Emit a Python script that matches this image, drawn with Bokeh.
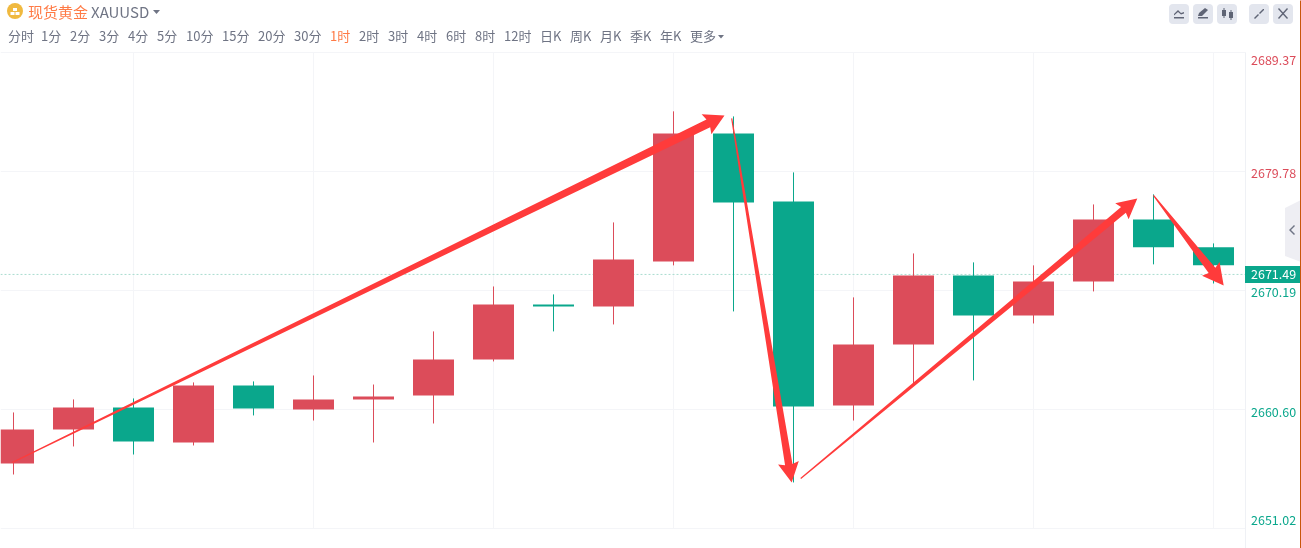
from bokeh.embed import file_html
from bokeh.resources import INLINE
from bokeh.plotting import figure
from bokeh.core.properties import value
from bokeh.models import ColumnDataSource, Range1d
import math

# ---------- data ----------
OPEN  = [2656.26, 2659.00, 2660.77, 2657.95, 2662.54, 2660.61, 2661.42, 2661.74, 2664.64, 2669.07, 2668.91,
         2672.54, 2682.85, 2677.37, 2660.93, 2665.85, 2671.41, 2668.19, 2670.93, 2675.92, 2673.67]
CLOSE = [2659.00, 2660.77, 2658.03, 2662.54, 2660.69, 2661.42, 2661.66, 2664.64, 2669.07, 2668.91, 2672.70,
         2682.85, 2677.29, 2660.85, 2665.85, 2671.41, 2668.19, 2670.93, 2675.92, 2673.67, 2672.22]
HIGH  = [2660.37, 2661.42, 2661.50, 2662.79, 2662.87, 2663.35, 2662.62, 2666.90, 2670.52, 2669.88, 2675.68,
         2684.63, 2684.22, 2679.71, 2669.64, 2673.18, 2672.46, 2672.22, 2677.13, 2677.94, 2673.99]
LOW   = [2655.37, 2657.63, 2656.98, 2657.71, 2660.13, 2659.72, 2657.95, 2659.48, 2664.48, 2666.90, 2667.46,
         2672.22, 2668.51, 2654.73, 2659.72, 2662.54, 2662.95, 2667.54, 2670.12, 2672.30, 2670.76]
Y_TICKS = [2689.37, 2679.78, 2670.19, 2660.60, 2651.02]
X_GRID = [2, 5, 8, 11, 14, 17, 20]
LAST_PRICE = 2671.49
MENU = ["分时", "1分", "2分", "3分", "4分", "5分", "10分", "15分", "20分", "30分", "1时", "2时", "3时",
        "4时", "6时", "8时", "12时", "日K", "周K", "月K", "季K", "年K", "更多"]
MENU_X = [8, 41, 70, 99, 128, 157, 186, 222, 258, 294, 330, 359, 388, 417, 446, 475, 504, 540, 570, 600, 630, 660, 690]
# hand-drawn arrows: start (candle index, price), tip (candle index, price), shaft width at tip, head length
ARROWS = [(-0.02, 2656.34, 11.85, 2684.30, 8.5, 18),
          (11.97, 2684.06, 12.97, 2654.73, 7.5, 18),
          (13.12, 2655.05, 18.73, 2677.61, 7.5, 18),
          (19.00, 2677.86, 20.17, 2670.60, 8.5, 19)]

# ---------- palette ----------
UP, DOWN = "#dc4c5a", "#0aa78c"
ARROW = "#ff3b3b"
GRID = "#f4f5f8"
ORANGE = "#ff7a45"
GREY = "#6f7484"
FONT = value("Noto Sans CJK SC")

W, H = 1301, 548
RIGHT, TOP, BOTTOM = 1245, 52, 528
PX_X = 60.0
PX_Y = (BOTTOM - TOP) / (Y_TICKS[0] - Y_TICKS[-1])
xr = Range1d(-13 / PX_X, (W - 13) / PX_X)
yr = Range1d(Y_TICKS[-1] - (H - BOTTOM) / PX_Y, Y_TICKS[0] + TOP / PX_Y)
X_END = (RIGHT - 13) / PX_X

p = figure(width=W, height=H, x_range=xr, y_range=yr, x_axis_location=None, y_axis_location=None,
           output_backend="svg", toolbar_location=None, min_border=0, background_fill_color="white",
           border_fill_color="white", outline_line_color=None,
           styles={"position": "fixed", "left": "0", "top": "0"})
p.grid.visible = False
p.extra_x_ranges["px"] = Range1d(0.5, W + 0.5)
p.extra_y_ranges["px"] = Range1d(H + 0.5, 0.5)
PXK = dict(x_range_name="px", y_range_name="px")

# grid, axis line, last-price line
n = len(Y_TICKS)
p.segment([xr.start] * n, Y_TICKS, [X_END] * n, Y_TICKS, line_color=GRID)
m = len(X_GRID)
p.segment(X_GRID, [Y_TICKS[-1]] * m, X_GRID, [Y_TICKS[0]] * m, line_color=GRID)
p.segment([X_END], [Y_TICKS[-1] - 20 / PX_Y], [X_END], [Y_TICKS[0]], line_color="#eff1f5")
p.segment([xr.start], [LAST_PRICE], [X_END], [LAST_PRICE], line_color="#a9dccf", line_dash="2 2")

idx = list(range(len(OPEN)))
src = ColumnDataSource(dict(x=idx, o=OPEN, c=CLOSE, h=HIGH, l=LOW,
                            col=[UP if c >= o else DOWN for o, c in zip(OPEN, CLOSE)]))
p.segment("x", "h", "x", "l", line_color="col", line_width=1, source=src)
p.vbar("x", 41 / PX_X, "o", "c", fill_color="col", line_color=None, source=src)

# tapered arrows, built in pixel space so that widths are true pixels
def arrow(x0, y0, x1, y1, w, head):
    ax0, ay0, ax1, ay1 = x0 * PX_X, y0 * PX_Y, x1 * PX_X, y1 * PX_Y
    L = math.hypot(ax1 - ax0, ay1 - ay0)
    ux, uy = (ax1 - ax0) / L, (ay1 - ay0) / L
    nx, ny = -uy, ux
    hw = w * 0.6 + 6
    bx, by = ax1 - ux * head, ay1 - uy * head
    pts = [(ax0 + nx * 0.6, ay0 + ny * 0.6),
           (bx + nx * w / 2, by + ny * w / 2),
           (bx + nx * hw - ux * 2, by + ny * hw - uy * 2),
           (ax1, ay1),
           (bx - nx * hw - ux * 2, by - ny * hw - uy * 2),
           (bx - nx * w / 2, by - ny * w / 2),
           (ax0 - nx * 0.6, ay0 - ny * 0.6)]
    return [q[0] / PX_X for q in pts], [q[1] / PX_Y for q in pts]

xs, ys = zip(*[arrow(*a) for a in ARROWS])
p.patches(list(xs), list(ys), fill_color=ARROW, line_color=None)

# ---------- header and side furniture (page pixels) ----------
def txt(x, y, s, color, size=13, style="normal"):
    p.text([x], [y], text=[s], text_color=color, text_font=FONT, text_font_size=f"{size}px",
           text_font_style=style, text_baseline="middle", **PXK)

def box(l, t, r, b, color, radius=0):
    p.quad(left=[l], right=[r], top=[t], bottom=[b], fill_color=color, line_color=None,
           border_radius=radius, **PXK)

def poly(pts, color):
    p.patch([a for a, _ in pts], [b for _, b in pts], fill_color=color, line_color=None, **PXK)

box(7, 3, 23, 19, "#f0b93f", 8)
box(13, 8, 17, 11, "white")
box(10.5, 12, 14.5, 15, "white")
box(15.5, 12, 19.5, 15, "white")
txt(28, 11, "现货黄金", ORANGE, 15)
txt(91, 11, "XAUUSD", GREY, 15)
poly([(153, 10), (160, 10), (156.5, 14)], GREY)
for s, x in zip(MENU, MENU_X):
    txt(x, 35, s, ORANGE if s == "1时" else GREY, 13)
poly([(718, 35), (724, 35), (721, 38.5)], GREY)

for l in (1169, 1193, 1217, 1249, 1273):
    box(l, 4, l + 20, 24, "#e3e6ee", 4)
ICON = "#5f6475"
box(1174, 17, 1184, 18.5, ICON)
poly([(1174, 14), (1178, 10), (1181, 13), (1184, 12), (1184, 13.5), (1181, 14.5), (1178, 12), (1174, 15.5)], ICON)
box(1198, 17, 1208, 18.5, ICON)
poly([(1198, 16), (1199, 13), (1205, 8), (1208, 10), (1202, 16)], ICON)
box(1222, 10, 1226, 16, ICON)
box(1223.5, 8, 1224.5, 18, ICON)
box(1229, 12, 1233, 18, ICON)
box(1230.5, 10, 1231.5, 20, ICON)
poly([(1254, 18), (1258, 14), (1259, 15), (1255, 19)], ICON)
poly([(1259, 13), (1263, 9), (1264, 9), (1264, 10), (1260, 14)], ICON)
poly([(1278, 9), (1279, 8), (1288, 18), (1287, 19)], ICON)
poly([(1287, 8), (1288, 9), (1279, 19), (1278, 18)], ICON)

poly([(1285, 208), (1301, 200), (1301, 262), (1285, 256)], "#eeeef3")
poly([(1294, 225), (1295, 226), (1291, 230), (1295, 234), (1294, 235), (1289, 230)], GREY)
box(1300, 0, 1301, 548, "#c8560a")
box(1245, 266, 1300, 283, DOWN)
txt(1251, 274, f"{LAST_PRICE:.2f}", "white", 12.5)

OFFS = [7, 1, 1, 2, -9]
for v, d in zip(Y_TICKS, OFFS):
    p.text([1251], [v], text=[f"{v:.2f}"], text_color=UP if v > LAST_PRICE else DOWN, text_font=FONT,
           text_font_size="12.5px", text_baseline="middle", y_offset=d, x_range_name="px")

open("out.html", "w").write(file_html(p, INLINE))
